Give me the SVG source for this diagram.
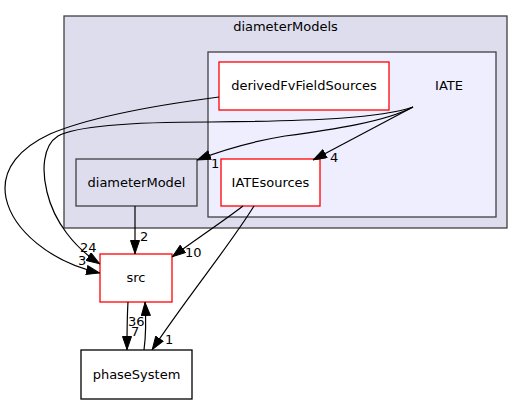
<svg xmlns="http://www.w3.org/2000/svg" width="523" height="404" viewBox="0 0 523 404">
<defs>
<style>
text{font-family:"DejaVu Sans","Liberation Sans",sans-serif;font-size:13px;fill:#000}
.c{text-anchor:middle}
.red{fill:#fff;stroke:#ff0000;stroke-width:1.3}
.plain{fill:#fff;stroke:#000;stroke-width:1.3}
.edge{fill:none;stroke:#000;stroke-width:1.2}
</style>
<marker id="ah" viewBox="0 0 14 10" refX="14" refY="5" markerWidth="14" markerHeight="10" markerUnits="userSpaceOnUse" orient="auto">
<path d="M0.5,0.5 L13.5,5 L0.5,9.5 Z" fill="#000" stroke="#000"/>
</marker>
</defs>
<rect width="523" height="404" fill="#fff"/>
<g id="cluster_diameterModels">
<rect x="64" y="16" width="443" height="212" fill="#ddddee" stroke="#404040" stroke-width="1.3"/>
<text class="c" x="285.5" y="31">diameterModels</text>
</g>
<g id="cluster_IATE">
<rect x="208" y="52" width="288" height="165" fill="#eeeeff" stroke="#404040" stroke-width="1.3"/>
<text class="c" x="449" y="90">IATE</text>
</g>
<g id="node_derivedFvFieldSources">
<rect class="red" x="219" y="62" width="170" height="48"/>
<text class="c" x="304" y="90">derivedFvFieldSources</text>
</g>
<g id="node_diameterModel">
<rect x="76" y="159" width="121" height="47" fill="#ddddee" stroke="#404040" stroke-width="1.3"/>
<text class="c" x="136.5" y="187">diameterModel</text>
</g>
<g id="node_IATEsources">
<rect class="red" x="221" y="159" width="99" height="47"/>
<text class="c" x="270.5" y="187">IATEsources</text>
</g>
<g id="node_src">
<rect class="red" x="100" y="254" width="72" height="48"/>
<text class="c" x="136" y="282">src</text>
</g>
<g id="node_phaseSystem">
<rect class="plain" x="81" y="350" width="111" height="49"/>
<text class="c" x="136.5" y="379">phaseSystem</text>
</g>
<g id="connectors">
<path class="edge" marker-end="url(#ah)" d="M219,97 C150,106 90,117 50,134 C22,147 0,168 6,198 C13,230 50,262 100,273"/>
<text x="78" y="265">3</text>
<path class="edge" marker-end="url(#ah)" d="M413,107 C380,118 320,121 210,122 C150,122 80,124 58,136 C42,146 42,172 47,192 C54,222 75,248 100,264"/>
<text x="80" y="252">24</text>
<path class="edge" marker-end="url(#ah)" d="M413,107 C385,122 330,130 285,136 C255,141 225,149 197,160"/>
<text x="211" y="168">1</text>
<path class="edge" marker-end="url(#ah)" d="M413,107 L313,160"/>
<text x="330" y="162">4</text>
<path class="edge" marker-end="url(#ah)" d="M135,206 L135,254"/>
<text x="140" y="241">2</text>
<path class="edge" marker-end="url(#ah)" d="M243,206 C225,220 195,240 172,257"/>
<text x="185" y="257">10</text>
<path class="edge" marker-end="url(#ah)" d="M254,206 C230,245 185,300 152,350"/>
<text x="165" y="344">1</text>
<path class="edge" marker-end="url(#ah)" d="M128,302 C127,318 127,334 127,350"/>
<text x="131" y="336">7</text>
<path class="edge" marker-end="url(#ah)" d="M144,350 C146,335 146,318 145,302"/>
<text x="128" y="326">36</text>
</g>
</svg>
